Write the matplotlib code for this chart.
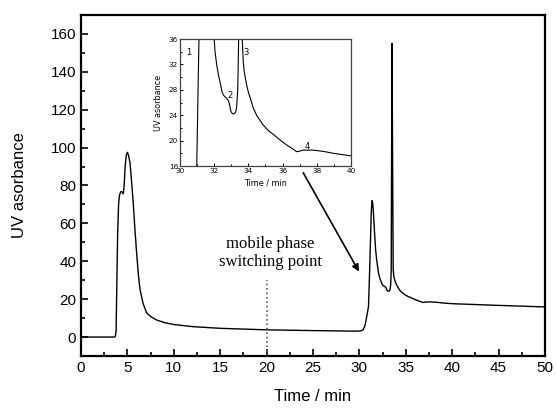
import matplotlib
matplotlib.use("Agg")
import matplotlib.pyplot as plt
from matplotlib.ticker import MultipleLocator

# chromatogram (time in min, UV absorbance)
time = [0.0, 3.6, 3.7, 3.78, 3.85, 3.95, 4.05, 4.15, 4.3, 4.45, 4.56, 4.65, 4.75,
        4.88, 5.0, 5.12, 5.28, 5.45, 5.64, 5.82, 6.0, 6.18, 6.36, 6.7, 7.08, 7.6,
        8.15, 9.0, 10.0, 12.0, 15.0, 20.0, 25.0, 29.5, 30.1, 30.4, 30.6, 30.8,
        30.98, 31.11, 31.2, 31.28, 31.36, 31.44, 31.52, 31.62, 31.75, 31.88, 32.0,
        32.05, 32.15, 32.25, 32.34, 32.45, 32.53, 32.63, 32.73, 32.8, 32.88, 32.93,
        32.98, 33.05, 33.12, 33.2, 33.27, 33.32, 33.37, 33.4, 33.43, 33.48, 33.52,
        33.57, 33.64, 33.7, 33.75, 33.8, 33.9, 34.0, 34.1, 34.29, 34.5, 34.87, 35.2,
        35.5, 35.85, 36.3, 36.6, 36.82, 37.0, 37.2, 37.8, 38.4, 38.96, 40.0, 45.0,
        50.0]
uv = [0.0, 0.0, 0.4, 3.0, 25.0, 55.0, 70.0, 75.0, 76.8, 76.5, 75.6, 80.0, 90.0,
      96.0, 97.5, 96.0, 92.0, 82.0, 70.0, 56.0, 44.0, 33.0, 25.0, 17.5, 12.7, 10.5,
      9.0, 7.6, 6.6, 5.5, 4.6, 3.8, 3.4, 3.1, 3.2, 3.8, 6.0, 11.0,
      16.0, 36.0, 52.0, 66.0, 72.0, 70.5, 65.0, 56.0, 46.0, 40.0, 36.0,
      34.0, 31.9, 30.3, 29.3, 27.8, 27.2, 26.9, 26.7, 26.4, 25.9, 25.2,
      24.6, 24.3, 24.2, 24.3, 24.6, 25.5, 27.7, 31.0, 36.0, 110.0, 155.0,
      100.0, 36.0, 32.4, 31.0, 30.2, 28.75, 27.6, 26.8, 25.1, 23.9, 22.45, 21.5,
      20.9, 20.1, 19.2, 18.7, 18.25, 18.35, 18.5, 18.5, 18.3, 18.0, 17.6, 16.7,
      15.9]

peak_labels = ["1", "2", "3", "4"]
peak_x = [30.5, 32.9, 33.85, 37.45]
peak_y = [33.8, 27.1, 33.8, 19.1]

fig = plt.figure(figsize=(5.56, 4.08), dpi=100)
ax = fig.add_axes([0.1457, 0.1275, 0.8345, 0.8358])
ax.plot(time, uv, color="k", lw=1.0)
ax.set_xlim(0, 50)
ax.set_ylim(-10, 170)
ax.xaxis.set_major_locator(MultipleLocator(5))
ax.xaxis.set_minor_locator(MultipleLocator(2.5))
ax.yaxis.set_major_locator(MultipleLocator(20))
ax.yaxis.set_minor_locator(MultipleLocator(10))
ax.tick_params(which="both", direction="in", width=1.2)
ax.tick_params(which="major", length=5, labelsize=11)
ax.tick_params(which="minor", length=3)
for s in ax.spines.values():
    s.set_linewidth(1.6)
for lab in ax.get_xticklabels() + ax.get_yticklabels():
    lab.set_family("Liberation Sans")
ax.set_xlabel("Time / min", fontsize=12, family="Liberation Sans", labelpad=10)
ax.set_ylabel("UV asorbance", fontsize=12, family="Liberation Sans", labelpad=17)

# switching point marker
ax.vlines(20, -10, 30, linestyles=":", colors="0.35", lw=1.2)
ax.text(20.4, 44.5, "mobile phase\nswitching point", ha="center", va="center",
        fontsize=12, family="Liberation Serif", linespacing=1.2)
ax.annotate("", xy=(30.1, 33.3), xytext=(23.8, 88),
            arrowprops=dict(arrowstyle="-|>", color="k", lw=1.2, mutation_scale=10))

# inset
ins = fig.add_axes([0.3237, 0.5931, 0.3076, 0.3113])
ins.plot(time, uv, color="k", lw=0.8)
ins.set_xlim(30, 40)
ins.set_ylim(16, 36)
ins.xaxis.set_major_locator(MultipleLocator(2))
ins.xaxis.set_minor_locator(MultipleLocator(1))
ins.yaxis.set_major_locator(MultipleLocator(4))
ins.yaxis.set_minor_locator(MultipleLocator(2))
ins.tick_params(which="both", direction="in", width=0.7, labelsize=5.2, pad=1.5)
ins.tick_params(which="major", length=2.5)
ins.tick_params(which="minor", length=1.5)
for s in ins.spines.values():
    s.set_linewidth(0.9)
    s.set_color("0.25")
ins.set_xlabel("Time / min", fontsize=5.8, labelpad=3)
ins.set_ylabel("UV asorbance", fontsize=5.8, labelpad=4)
for t, x, y in zip(peak_labels, peak_x, peak_y):
    ins.text(x, y, t, fontsize=6, ha="center", va="center")

fig.savefig("out.png", dpi=100)
